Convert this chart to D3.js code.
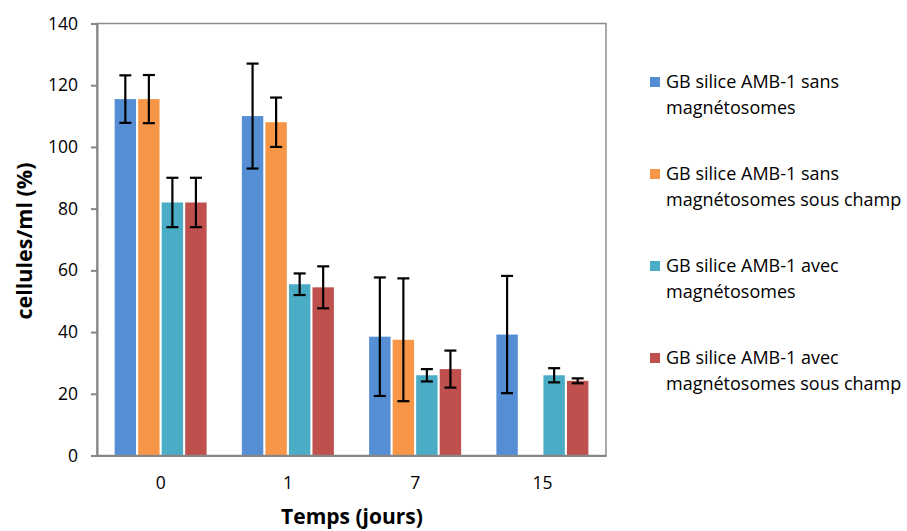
<!DOCTYPE html>
<html>
<head>
<meta charset="utf-8">
<script src="https://cdn.jsdelivr.net/npm/d3@7"></script>
<style>
  body { margin: 0; background: #fff; }
  text { font-family: "Open Sans", "Liberation Sans", sans-serif; }
</style>
</head>
<body>
<svg id="chart" width="907" height="531"></svg>
<script>
// data
const days = ["0", "1", "7", "15"]
const seriesNames = [
  ["GB silice AMB-1 sans", "magnétosomes"],
  ["GB silice AMB-1 sans", "magnétosomes sous champ"],
  ["GB silice AMB-1 avec", "magnétosomes"],
  ["GB silice AMB-1 avec", "magnétosomes sous champ"]
]
const colors = ["#558ed5", "#f79646", "#4bacc6", "#c0504d"]
const sansMag = [115.5, 110, 38.5, 39.2]
const sansMagErr = [7.7, 17, 19.2, 19]
const sansMagChamp = [115.5, 108, 37.5, null]
const sansMagChampErr = [7.8, 8, 19.9, null]
const avecMag = [82, 55.5, 26, 26]
const avecMagErr = [8, 3.5, 2, 2.3]
const avecMagChamp = [82, 54.5, 28, 24.2]
const avecMagChampErr = [8, 6.8, 6, 0.8]
const yTicks = [0, 20, 40, 60, 80, 100, 120, 140]

const values = [sansMag, sansMagChamp, avecMag, avecMagChamp]
const errors = [sansMagErr, sansMagChampErr, avecMagErr, avecMagChampErr]

const svg = d3.select("#chart")
const plotLeft = 97, plotRight = 606, plotTop = 23.5, plotBottom = 455.5

let x = d3.scaleBand().domain(days).range([plotLeft, plotRight])
let y = d3.scaleLinear().domain([0, 140]).range([plotBottom, plotTop])
let sub = d3.scaleBand().domain(d3.range(4)).range([0, 92]).paddingInner(0.09)
let groupOffset = (x.bandwidth() - 92) / 2

// bars
let rows = []
days.forEach((d, i) => {
    values.forEach((s, k) => {
        if (s[i] != null) rows.push({ day: d, k: k, v: s[i], e: errors[k][i] })
    })
})

svg.append("g").selectAll("rect")
    .data(rows)
    .join("rect")
    .attr("x", d => x(d.day) + groupOffset + sub(d.k))
    .attr("y", d => y(d.v))
    .attr("width", sub.bandwidth())
    .attr("height", d => y(0) - y(d.v))
    .attr("fill", d => colors[d.k])

// error bars
let eb = svg.append("g").attr("stroke", "#000").attr("stroke-width", 2.2)
rows.forEach(d => {
    let cx = x(d.day) + groupOffset + sub(d.k) + sub.bandwidth() / 2
    eb.append("line").attr("x1", cx).attr("x2", cx).attr("y1", y(d.v + d.e)).attr("y2", y(d.v - d.e))
    eb.append("line").attr("x1", cx - 6).attr("x2", cx + 6).attr("y1", y(d.v + d.e)).attr("y2", y(d.v + d.e))
    eb.append("line").attr("x1", cx - 6).attr("x2", cx + 6).attr("y1", y(d.v - d.e)).attr("y2", y(d.v - d.e))
})

// plot border
svg.append("rect")
    .attr("x", plotLeft).attr("y", plotTop)
    .attr("width", plotRight - plotLeft).attr("height", plotBottom - plotTop)
    .attr("fill", "none").attr("stroke", "#8c8c8c").attr("stroke-width", 1.5)

// y axis
let yAxis = svg.append("g")
    .attr("transform", `translate(${plotLeft},0)`)
    .call(d3.axisLeft(y).tickValues(yTicks).tickSize(6).tickPadding(13))
yAxis.select(".domain").attr("stroke", "#868686").attr("stroke-width", 2)
yAxis.selectAll(".tick line").attr("stroke", "#868686").attr("stroke-width", 2)
yAxis.selectAll("text").attr("font-size", 17.5).attr("fill", "#000")
    .style("font-family", "'Open Sans', sans-serif")

// x axis
let xAxis = svg.append("g")
    .attr("transform", `translate(0,${plotBottom})`)
    .call(d3.axisBottom(x).tickSize(0).tickPadding(21))
xAxis.select(".domain").attr("stroke", "#868686").attr("stroke-width", 2)
xAxis.selectAll("text").attr("font-size", 17.5).attr("fill", "#000")
    .style("font-family", "'Open Sans', sans-serif")

// axis titles
svg.append("text")
    .attr("x", 352).attr("y", 524)
    .attr("text-anchor", "middle")
    .attr("font-size", 21).attr("font-weight", "bold")
    .text("Temps (jours)")

svg.append("text")
    .attr("transform", "translate(32,241) rotate(-90)")
    .attr("text-anchor", "middle")
    .attr("font-size", 21.5).attr("font-weight", "bold")
    .text("cellules/ml (%)")

// legend
let legend = svg.append("g")
seriesNames.forEach((name, k) => {
    let ly = 82 + k * 92
    legend.append("rect")
        .attr("x", 650).attr("y", ly - 5)
        .attr("width", 10).attr("height", 10)
        .attr("fill", colors[k])
    legend.append("text")
        .attr("x", 666).attr("y", ly + 6)
        .attr("font-size", 18)
        .text(name[0])
    legend.append("text")
        .attr("x", 666).attr("y", ly + 32)
        .attr("font-size", 18)
        .text(name[1])
})
</script>
</body>
</html>
